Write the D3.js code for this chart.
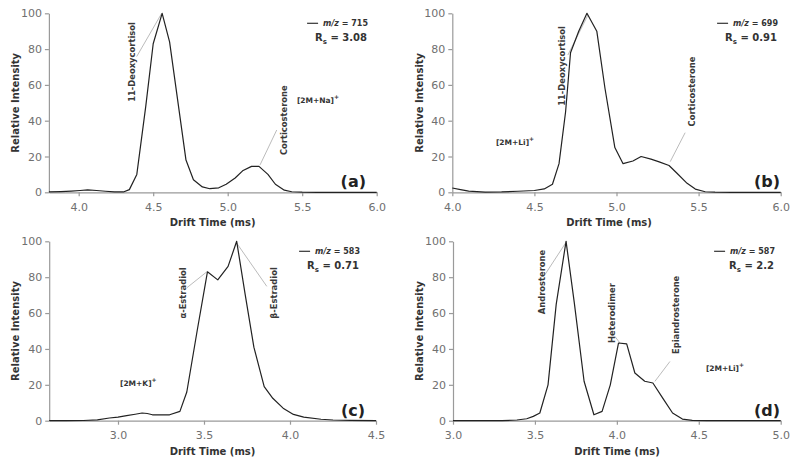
<!DOCTYPE html>
<html><head><meta charset="utf-8">
<script src="https://cdn.jsdelivr.net/npm/d3@7"></script>
<style>
body{margin:0;background:#fff}
svg{display:block}
text{font-family:"DejaVu Sans",Verdana,sans-serif}
</style>
</head><body>
<svg id="chart" width="800" height="457"></svg>
<script>
// ---------- data ----------
const yTicks = [0, 20, 40, 60, 80, 100];

// (a) m/z 715, [2M+Na]+
const timeA = [3.80,3.88,3.95,4.01,4.06,4.12,4.18,4.24,4.30,4.34,4.39,4.45,4.50,4.56,4.61,4.67,4.72,4.77,4.83,4.88,4.94,4.99,5.05,5.10,5.16,5.21,5.27,5.32,5.38,5.43,5.50,5.60,5.70,5.80,5.90,6.00];
const intA  = [0.2,0.4,0.7,1.0,1.3,1.0,0.6,0.2,0.2,1.5,10,48,83,100,84,48,18,7,3,2,2.5,4.5,8,12,14.5,14.5,10,4.5,1.2,0.3,0.1,0,0,0,0,0];
const ticksA = [4.0,4.5,5.0,5.5,6.0];
const domainA = [3.8, 6.0];

// (b) m/z 699, [2M+Li]+
const timeB = [4.00,4.05,4.10,4.20,4.30,4.40,4.50,4.56,4.61,4.65,4.69,4.72,4.77,4.82,4.88,4.93,4.99,5.04,5.10,5.15,5.21,5.26,5.32,5.37,5.43,5.48,5.54,5.60,5.70,5.80,5.90,6.00];
const intB  = [2.4,1.5,0.7,0.1,0.2,0.6,1.0,1.9,4.5,16,45,78,90,100,90,58,25,16,17.5,20,18.5,17,15,10.5,5,1.8,0.3,0.1,0,0,0,0];
const ticksB = [4.0,4.5,5.0,5.5,6.0];
const domainB = [4.0, 6.0];

// (c) m/z 583, [2M+K]+
const timeC = [2.60,2.70,2.80,2.88,2.95,3.00,3.05,3.10,3.14,3.17,3.20,3.25,3.30,3.36,3.40,3.46,3.52,3.58,3.64,3.69,3.74,3.79,3.85,3.90,3.96,4.02,4.08,4.18,4.25,4.35,4.50];
const intC  = [0,0,0.1,0.5,1.5,2.0,2.8,3.6,4.3,4.0,3.3,3.3,3.3,5.2,16,50,83,78.5,86,100,70,41,19,12.5,7,3.5,2,0.8,0.4,0.2,0];
const ticksC = [3.0,3.5,4.0,4.5];
const domainC = [2.6, 4.5];

// (d) m/z 587, [2M+Li]+
const timeD = [3.00,3.10,3.20,3.30,3.39,3.45,3.49,3.53,3.58,3.63,3.69,3.74,3.80,3.86,3.91,3.96,4.01,4.06,4.11,4.17,4.22,4.28,4.34,4.40,4.46,4.55,4.70,4.85,5.00];
const intD  = [0,0,0,0,0.4,1.1,2.4,4.3,20,65,100,66,22,3.3,5.2,20,43.3,42.8,26.6,22,21,12.6,4.3,0.9,0.2,0,0,0,0];
const ticksD = [3.0,3.5,4.0,4.5,5.0];
const domainD = [3.0, 5.0];

// legends
const mzValues = [715, 699, 583, 587];
const rsValues = ["3.08", "0.91", "0.71", "2.2"];
const panelLetters = ["(a)", "(b)", "(c)", "(d)"];
const ionLabels = ["[2M+Na]", "[2M+Li]", "[2M+K]", "[2M+Li]"];
// ion label anchor, data units [time, intensity]
const ionPosA = [5.606, 51.5], ionPosB = [4.382, 28.3], ionPosC = [3.118, 21], ionPosD = [4.66, 29.4];

// peak annotations: text center (t,v), leader from (t1,v1) to (t2,v2) in data units
const notesA = [
  {text:"11-Deoxycortisol", t:4.358, v:72.8, t1:4.389, v1:75.8, t2:4.557, v2:100},
  {text:"Corticosterone",   t:5.378, v:40.3, t1:5.329, v1:34.8, t2:5.217, v2:15.3}
];
const notesB = [
  {text:"11-Deoxycortisol", t:4.667, v:70.6, t1:4.704, v1:76.7, t2:4.826, v2:99},
  {text:"Corticosterone",   t:5.459, v:56.3, t1:5.418, v1:33.3, t2:5.327, v2:17.1}
];
const notesC = [
  {text:"α-Estradiol", t:3.376, v:71.2, t1:3.399, v1:74, t2:3.519, v2:83.2},
  {text:"β-Estradiol", t:3.909, v:71.2, t1:3.865, v1:74.9, t2:3.69, v2:99}
];
const notesD = [
  {text:"Androsterone",    t:3.541, v:77.3, t1:3.561, v1:81.4, t2:3.694, v2:100},
  {text:"Heterodimer",     t:3.97,  v:60,   t1:3.988, v1:47,   t2:4.019, v2:43.3},
  {text:"Epiandrosterone", t:4.361, v:59,   t1:4.324, v1:33,   t2:4.232, v2:21.9}
];

// ---------- layout (pixels) ----------
const layout = [
  {left:48.9, right:376.7, top:13.3, bottom:192.3, titleX:212.6, yTitleX:15,  legendRight:368, letterRight:366},
  {left:452.3,right:780.7, top:13.3, bottom:192.3, titleX:609,   yTitleX:419, legendRight:778, letterRight:780},
  {left:49.2, right:376,   top:241.3,bottom:420.7, titleX:212.5, yTitleX:15,  legendRight:360, letterRight:365},
  {left:453,  right:780.7, top:241.3,bottom:420.7, titleX:617,   yTitleX:419, legendRight:775, letterRight:780}
];

const panels = [
  {time:timeA, values:intA, ticks:ticksA, domain:domainA, notes:notesA, ion:ionPosA},
  {time:timeB, values:intB, ticks:ticksB, domain:domainB, notes:notesB, ion:ionPosB},
  {time:timeC, values:intC, ticks:ticksC, domain:domainC, notes:notesC, ion:ionPosC},
  {time:timeD, values:intD, ticks:ticksD, domain:domainD, notes:notesD, ion:ionPosD}
];

const svg = d3.select("#chart");
const axisColor = "#9a9a9a", tickText = "#707070", dark = "#222";

panels.forEach((p, i) => {
  const L = layout[i];
  const x = d3.scaleLinear().domain(p.domain).range([L.left, L.right]);
  const y = d3.scaleLinear().domain([0, 100]).range([L.bottom, L.top]);
  const g = svg.append("g");

  // axes
  const xa = g.append("g").attr("transform", `translate(0,${L.bottom})`)
    .call(d3.axisBottom(x).tickValues(p.ticks).tickFormat(d3.format(".1f")).tickSize(4).tickSizeOuter(0).tickPadding(7));
  const ya = g.append("g").attr("transform", `translate(${L.left},0)`)
    .call(d3.axisLeft(y).tickValues(yTicks).tickSize(4).tickSizeOuter(0).tickPadding(3));
  [xa, ya].forEach(a => {
    a.selectAll("path,line").attr("stroke", axisColor).attr("stroke-width", 1.2);
    a.selectAll("text").attr("fill", tickText).style("font-size", "11px");
  });

  // axis titles
  g.append("text").attr("x", L.titleX).attr("y", L.bottom + 34)
    .attr("text-anchor", "middle").style("font-size", "10px").style("font-weight", "bold")
    .attr("fill", "#333").text("Drift Time (ms)");
  g.append("text").attr("transform", `translate(${L.yTitleX},${(L.top + L.bottom) / 2}) rotate(-90)`)
    .attr("text-anchor", "middle").attr("dominant-baseline", "central")
    .style("font-size", "10px").style("font-weight", "bold").attr("fill", "#333").text("Relative Intensity");

  // leader lines
  g.selectAll(".leader").data(p.notes).join("line")
    .attr("x1", d => x(d.t1)).attr("y1", d => y(d.v1))
    .attr("x2", d => x(d.t2)).attr("y2", d => y(d.v2))
    .attr("stroke", "#aaa").attr("stroke-width", 0.8);

  // curve
  const pts = p.time.map((t, k) => [t, p.values[k]]);
  g.append("path").datum(pts)
    .attr("d", d3.line().x(d => x(d[0])).y(d => y(d[1])))
    .attr("fill", "none").attr("stroke", dark).attr("stroke-width", 1.2)
    .attr("stroke-linejoin", "round");

  // annotation texts (rotated)
  g.selectAll(".note").data(p.notes).join("text")
    .attr("transform", d => `translate(${x(d.t)},${y(d.v)}) rotate(-90)`)
    .attr("text-anchor", "middle").attr("dominant-baseline", "central")
    .style("font-size", "8.4px").style("font-weight", "bold").attr("fill", "#3a3a3a").text(d => d.text);

  // ion label
  const ion = g.append("text").attr("x", x(p.ion[0])).attr("y", y(p.ion[1]))
    .attr("text-anchor", "middle").attr("dominant-baseline", "central")
    .style("font-size", "7.5px").style("font-weight", "bold").attr("fill", "#333");
  ion.append("tspan").text(ionLabels[i]);
  ion.append("tspan").attr("dy", -4).style("font-size", "6px").text("+");

  // legend
  const l1 = L.top + 10;
  const t1 = g.append("text").attr("x", L.legendRight).attr("y", l1 + 3)
    .attr("text-anchor", "end").style("font-size", "8px").style("font-weight", "bold").attr("fill", "#333");
  t1.append("tspan").style("font-style", "italic").text("m/z");
  t1.append("tspan").text(" = " + mzValues[i]);
  const w1 = t1.node().getComputedTextLength();
  g.append("line").attr("x1", L.legendRight - w1 - 16).attr("x2", L.legendRight - w1 - 5)
    .attr("y1", l1).attr("y2", l1).attr("stroke", "#333").attr("stroke-width", 1.2);

  const t2 = g.append("text").attr("x", L.legendRight - 1).attr("y", L.top + 28)
    .attr("text-anchor", "end").style("font-size", "10px").style("font-weight", "bold").attr("fill", "#333");
  t2.append("tspan").text("R");
  t2.append("tspan").attr("dy", 2.5).style("font-size", "7px").text("s");
  t2.append("tspan").attr("dy", -2.5).text(" = " + rsValues[i]);

  // panel letter
  g.append("text").attr("x", L.letterRight).attr("y", L.bottom - 5)
    .attr("text-anchor", "end").style("font-size", "16px").style("font-weight", "bold")
    .attr("fill", "#222").text(panelLetters[i]);
});
</script>
</body></html>
